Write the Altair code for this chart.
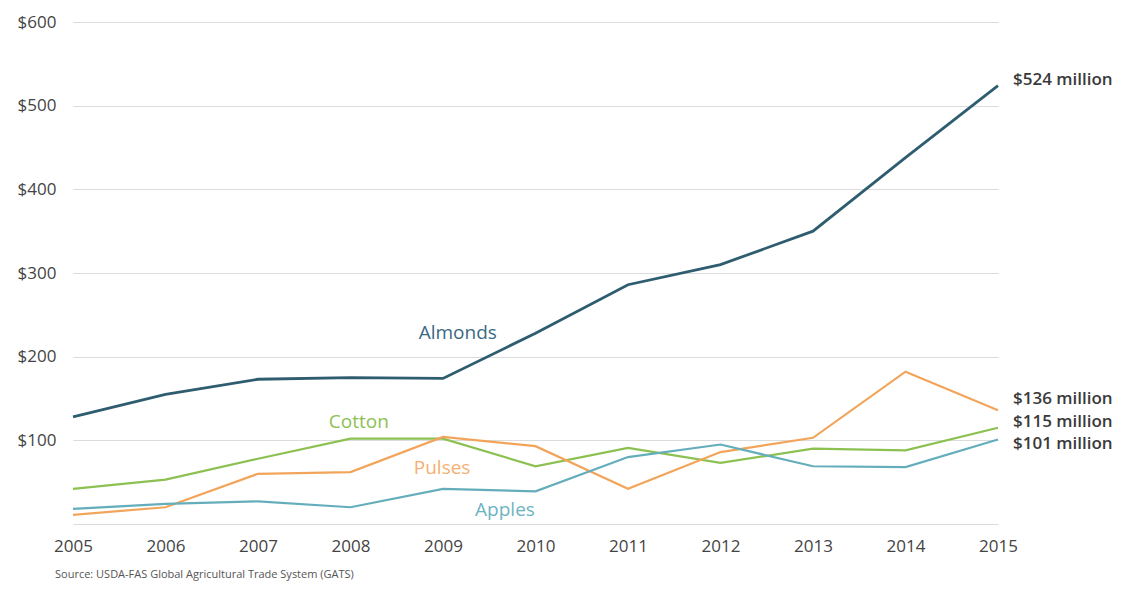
import altair as alt
import pandas as pd

years = list(range(2005, 2016))
almonds = [128, 155, 173, 175, 174, 228, 286, 310, 350, 438, 524]
cotton = [42, 53, 78, 102, 102, 69, 91, 73, 90, 88, 115]
pulses = [11, 20, 60, 62, 104, 93, 42, 86, 103, 182, 136]
apples = [18, 24, 27, 20, 42, 39, 80, 95, 69, 68, 101]

series_names = ["Almonds", "Cotton", "Pulses", "Apples"]
series_colors = ["#2f5d70", "#8cc152", "#f2a55a", "#64aebb"]
label_colors = ["#3b6a82", "#8cc152", "#f5b072", "#6cb4c2"]

# series name annotations (year, value)
name_x = [2009.16, 2008.09, 2008.99, 2009.67]
name_y = [228, 122, 67, 17]

end_labels = ["$524 million", "$136 million", "$115 million", "$101 million"]
end_values = [524, 136, 115, 101]
end_dy = [-6, -11, -6, 5]

rows = []
for name, vals in zip(series_names, [almonds, cotton, pulses, apples]):
    for y, v in zip(years, vals):
        rows.append({"year": y, "value": v, "series": name})
df = pd.DataFrame(rows)

color_scale = alt.Scale(domain=series_names, range=series_colors)

x_enc = alt.X("year:Q", scale=alt.Scale(domain=[2005, 2015], nice=False),
              axis=alt.Axis(values=years, format="d", title=None, grid=False,
                            domain=False, ticks=False, labelPadding=14,
                            labelFlush=False,
                            labelFontSize=17, labelColor="#444",
                            labelFont="Open Sans"))
y_enc = alt.Y("value:Q", scale=alt.Scale(domain=[0, 600], nice=False),
              axis=alt.Axis(values=[0, 100, 200, 300, 400, 500, 600],
                            labelExpr="datum.value == 0 ? '' : '$' + datum.value",
                            title=None, domain=False, ticks=False,
                            gridColor="#dcdcdc", gridWidth=1,
                            labelPadding=17, labelFontSize=17, labelColor="#444",
                            labelFont="Open Sans"))

lines = alt.Chart(df).mark_line().encode(
    x=x_enc, y=y_enc,
    color=alt.Color("series:N", scale=color_scale, legend=None),
    strokeWidth=alt.condition(alt.datum.series == "Almonds", alt.value(2.8), alt.value(2.2)),
)

names_df = pd.DataFrame({"x": name_x, "y": name_y, "series": series_names,
                         "c": label_colors})
names = alt.Chart(names_df).mark_text(fontSize=19, font="Open Sans").encode(
    x="x:Q", y="y:Q", text="series:N",
    color=alt.Color("c:N", scale=None),
)

end_parts = []
for lab, val, dy in zip(end_labels, end_values, end_dy):
    d = pd.DataFrame({"year": [2015], "value": [val], "label": [lab]})
    end_parts.append(
        alt.Chart(d).mark_text(align="left", dx=15, dy=dy, fontSize=17,
                               fontWeight=600, font="Open Sans",
                               color="#3a3a3a").encode(
            x="year:Q", y="value:Q", text="label:N")
    )

chart = alt.layer(lines, names, *end_parts).properties(
    width=925, height=502,
    background="white",
    title=alt.TitleParams("Source:  USDA-FAS Global Agricultural Trade System (GATS)",
                          orient="bottom", anchor="start", frame="group",
                          fontSize=11, fontWeight="normal", color="#555",
                          font="Open Sans", dx=-18, offset=15),
    autosize=alt.AutoSizeParams(type="none"),
    padding={"left": 65, "top": 14, "right": 120, "bottom": 66},
).configure_view(stroke="transparent", strokeWidth=0)

chart.save("out.html", embed_options={"renderer": "svg", "actions": False})
